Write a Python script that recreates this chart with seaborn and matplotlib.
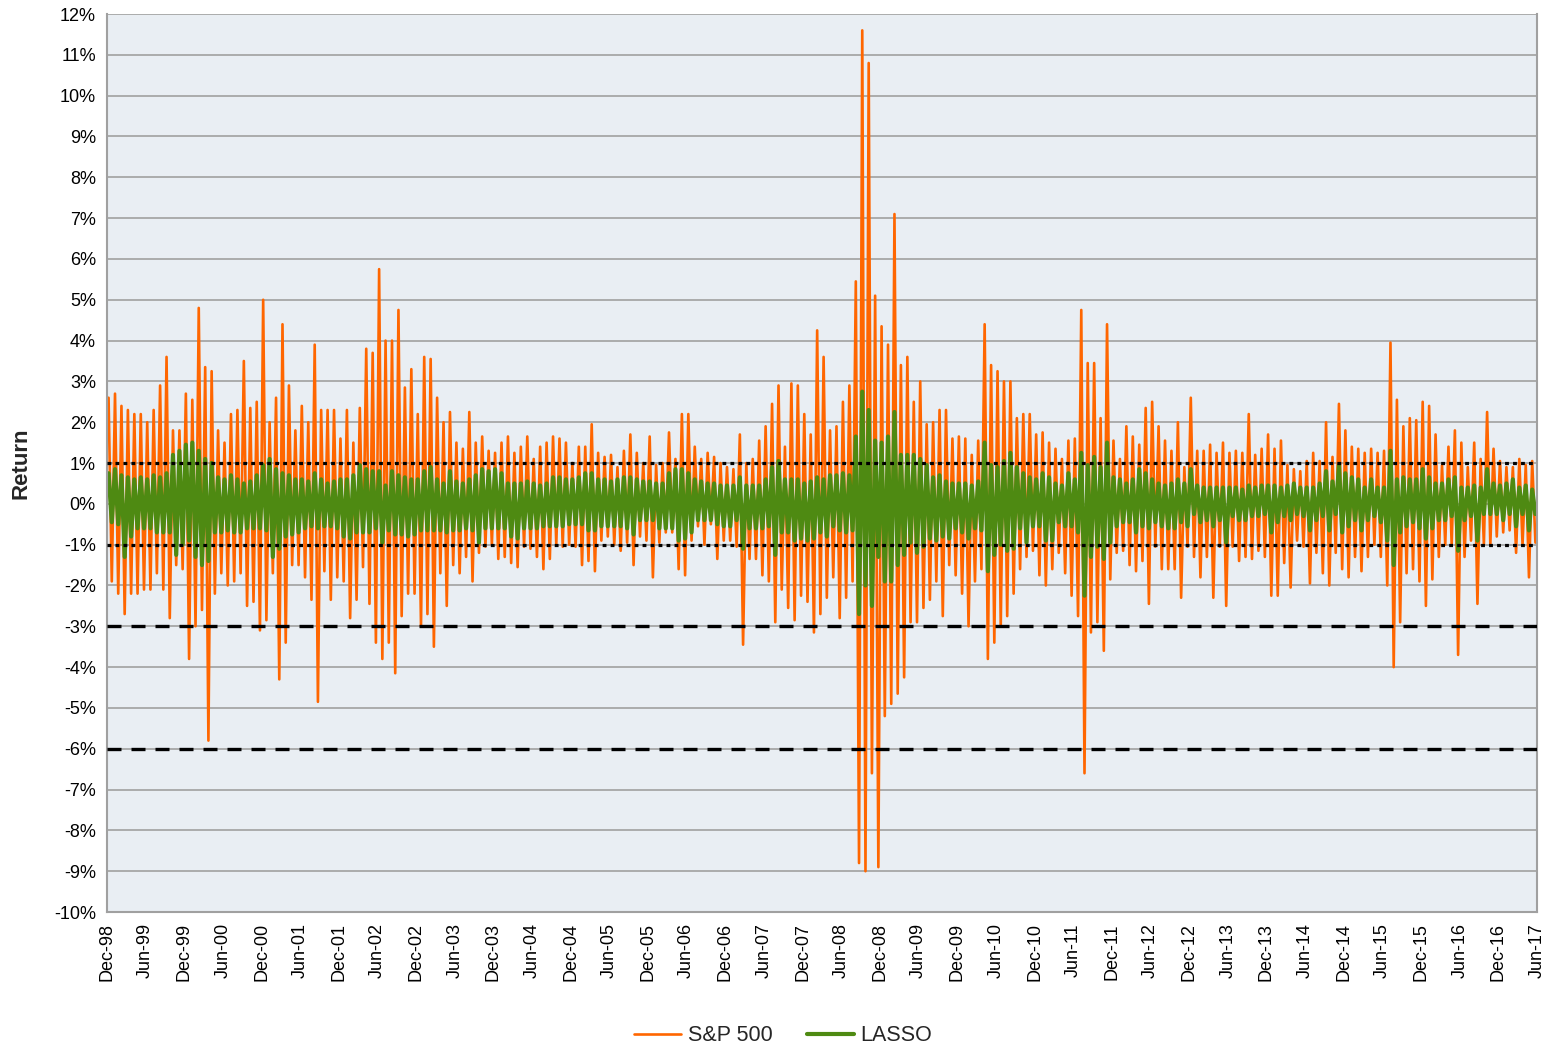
import numpy as np
import pandas as pd
import matplotlib
matplotlib.use("Agg")
import matplotlib.pyplot as plt
import seaborn as sns
from matplotlib.ticker import FuncFormatter

# Monthly envelope of daily returns (%), Dec-98 .. May-17
# one row = Dec..Nov of the following year
sp_hi = [
    2.6, 2.7, 2.4, 2.3, 2.2, 2.2, 2.0, 2.3, 2.9, 3.6, 1.8, 1.8,
    2.7, 2.55, 4.8, 3.35, 3.25, 1.8, 1.5, 2.2, 2.3, 3.5, 2.35, 2.5,
    5.0, 2.0, 2.6, 4.4, 2.9, 1.8, 2.4, 2.0, 3.9, 2.3, 2.3, 2.3,
    1.6, 2.3, 1.5, 2.35, 3.8, 3.7, 5.75, 4.0, 4.0, 4.75, 2.85, 3.3,
    2.2, 3.6, 3.55, 2.6, 2.0, 2.25, 1.5, 1.35, 2.25, 1.5, 1.65, 1.3,
    1.25, 1.5, 1.65, 1.25, 1.4, 1.65, 1.1, 1.4, 1.5, 1.65, 1.6, 1.5,
    1.0, 1.4, 1.4, 1.95, 1.25, 1.15, 1.2, 0.9, 1.3, 1.7, 1.25, 1.0,
    1.65, 0.95, 1.0, 1.75, 1.1, 2.2, 2.2, 1.4, 1.1, 1.25, 1.15, 1.0,
    0.9, 0.85, 1.7, 1.0, 1.1, 1.55, 1.9, 2.45, 2.9, 1.4, 2.95, 2.9,
    2.2, 1.7, 4.25, 3.6, 1.8, 1.9, 2.5, 2.9, 5.45, 11.6, 10.8, 5.1,
    4.35, 3.9, 7.1, 3.4, 3.6, 2.5, 3.0, 1.95, 2.0, 2.3, 2.3, 1.6,
    1.65, 1.6, 1.2, 1.55, 4.4, 3.4, 3.25, 3.0, 3.0, 2.1, 2.2, 2.2,
    1.7, 1.75, 1.5, 1.35, 1.1, 1.55, 1.6, 4.75, 3.45, 3.45, 2.1, 4.4,
    1.55, 1.1, 1.9, 1.65, 1.45, 2.35, 2.5, 1.9, 1.55, 1.3, 2.0, 0.9,
    2.6, 1.3, 1.3, 1.45, 1.25, 1.5, 1.25, 1.3, 1.25, 2.2, 1.2, 1.35,
    1.7, 1.35, 1.55, 0.95, 0.85, 0.8, 1.05, 1.25, 1.05, 2.0, 1.15, 2.45,
    1.8, 1.4, 1.35, 1.25, 1.35, 1.25, 1.3, 3.95, 2.55, 1.9, 2.1, 2.05,
    2.5, 2.4, 1.7, 0.95, 1.4, 1.8, 1.5, 0.9, 1.5, 1.1, 2.25, 1.35,
    1.05, 0.9, 0.9, 1.1, 0.95, 1.05,
]
sp_lo = [
    -1.9, -2.2, -2.7, -2.2, -2.2, -2.1, -2.1, -1.7, -2.1, -2.8, -1.5, -1.6,
    -3.8, -3.0, -2.6, -5.8, -2.2, -1.7, -2.0, -1.9, -1.7, -2.5, -2.4, -3.1,
    -2.85, -1.7, -4.3, -3.4, -1.5, -1.5, -1.8, -2.35, -4.85, -1.65, -2.35, -1.8,
    -1.9, -2.8, -2.35, -1.55, -2.45, -3.4, -3.8, -3.4, -4.15, -2.75, -2.2, -2.2,
    -3.0, -2.7, -3.5, -1.7, -2.5, -1.5, -1.7, -1.3, -1.9, -1.2, -1.05, -1.0,
    -1.35, -1.3, -1.45, -1.55, -1.05, -1.1, -1.3, -1.6, -1.35, -1.0, -1.05, -1.0,
    -1.05, -1.5, -1.4, -1.65, -0.9, -0.8, -1.0, -1.15, -0.95, -1.5, -0.8, -0.9,
    -1.8, -0.95, -0.7, -0.7, -1.6, -1.75, -0.9, -0.55, -1.0, -0.5, -1.35, -0.9,
    -0.9, -1.05, -3.45, -1.35, -1.35, -1.75, -1.9, -2.9, -2.1, -2.55, -2.85, -2.25,
    -2.4, -3.15, -2.7, -2.3, -1.8, -2.8, -2.3, -1.9, -8.8, -9.0, -6.6, -8.9,
    -5.2, -4.9, -4.65, -4.25, -2.9, -2.9, -2.55, -2.35, -1.9, -2.75, -1.5, -1.75,
    -2.2, -3.0, -1.9, -1.6, -3.8, -3.4, -3.0, -2.75, -2.2, -1.6, -1.3, -1.15,
    -1.75, -2.0, -1.6, -1.2, -1.7, -2.25, -2.75, -6.6, -3.15, -2.9, -3.6, -1.85,
    -1.2, -1.15, -1.5, -1.65, -1.4, -2.45, -1.05, -1.6, -1.6, -1.6, -2.3, -1.05,
    -1.3, -1.8, -1.3, -2.3, -1.05, -2.5, -1.05, -1.4, -1.3, -1.35, -1.15, -1.3,
    -2.25, -2.25, -1.45, -2.05, -0.9, -1.05, -1.95, -1.2, -1.7, -2.0, -1.2, -1.6,
    -1.8, -1.3, -1.65, -1.3, -1.0, -1.3, -2.0, -4.0, -2.9, -1.7, -1.6, -1.9,
    -2.5, -1.85, -1.3, -1.0, -1.0, -3.7, -1.3, -0.9, -2.45, -1.0, -1.0, -0.8,
    -0.7, -0.65, -1.2, -1.0, -1.8, -0.95,
]
lasso_hi = [
    0.75, 0.85, 0.7, 0.65, 0.6, 0.65, 0.6, 0.7, 0.65, 0.75, 1.2, 1.3,
    1.45, 1.5, 1.3, 1.1, 1.0, 0.65, 0.6, 0.7, 0.6, 0.5, 0.55, 0.7,
    0.95, 1.1, 0.85, 0.75, 0.7, 0.6, 0.6, 0.55, 0.75, 0.6, 0.5, 0.55,
    0.6, 0.6, 0.7, 0.95, 0.85, 0.8, 0.8, 0.45, 0.8, 0.7, 0.65, 0.6,
    0.6, 0.8, 0.9, 0.6, 0.5, 0.8, 0.55, 0.5, 0.6, 0.7, 0.85, 0.8,
    0.85, 0.75, 0.5, 0.5, 0.5, 0.55, 0.5, 0.45, 0.5, 0.65, 0.65, 0.6,
    0.6, 0.65, 0.75, 0.75, 0.6, 0.6, 0.55, 0.6, 0.65, 0.65, 0.6, 0.55,
    0.55, 0.5, 0.5, 0.75, 0.85, 0.85, 0.75, 0.6, 0.55, 0.5, 0.5, 0.45,
    0.45, 0.45, 0.65, 0.45, 0.45, 0.45, 0.6, 0.9, 1.05, 0.6, 0.6, 0.6,
    0.5, 0.55, 0.65, 0.6, 0.7, 0.7, 0.75, 0.7, 1.65, 2.75, 2.3, 1.55,
    1.5, 1.65, 2.25, 1.2, 1.2, 1.2, 1.1, 0.95, 0.65, 0.7, 0.55, 0.5,
    0.5, 0.5, 0.45, 0.55, 1.5, 0.95, 0.9, 1.05, 1.25, 0.9, 0.75, 0.65,
    0.6, 0.75, 0.65, 0.5, 0.45, 0.75, 0.6, 1.25, 0.95, 1.15, 0.9, 1.5,
    0.65, 0.6, 0.5, 0.6, 0.85, 0.75, 0.6, 0.5, 0.45, 0.5, 0.6, 0.5,
    0.85, 0.45, 0.4, 0.4, 0.4, 0.4, 0.4, 0.4, 0.35, 0.45, 0.4, 0.45,
    0.45, 0.45, 0.4, 0.45, 0.5, 0.4, 0.4, 0.4, 0.5, 0.8, 0.55, 0.95,
    0.75, 0.65, 0.6, 0.4, 0.6, 0.4, 0.4, 1.3, 0.6, 0.65, 0.6, 0.6,
    0.85, 0.65, 0.5, 0.5, 0.6, 0.65, 0.4, 0.4, 0.45, 0.4, 0.85, 0.5,
    0.45, 0.5, 0.6, 0.4, 0.45, 0.35,
]
lasso_lo = [
    -0.45, -0.5, -1.3, -0.8, -0.6, -0.6, -0.6, -0.7, -0.7, -0.7, -1.25, -1.0,
    -0.9, -1.3, -1.5, -1.4, -0.7, -0.7, -0.65, -0.7, -0.7, -0.6, -0.6, -0.6,
    -0.65, -1.3, -1.1, -0.8, -0.75, -0.7, -0.6, -0.55, -0.6, -0.55, -0.55, -0.6,
    -0.8, -0.85, -0.7, -0.7, -0.7, -0.6, -0.95, -0.65, -0.75, -0.75, -0.8, -0.75,
    -0.65, -0.65, -0.65, -0.65, -0.7, -0.65, -0.65, -0.6, -0.65, -0.95, -0.6, -0.6,
    -0.6, -0.6, -0.8, -0.85, -0.6, -0.6, -0.6, -0.55, -0.55, -0.55, -0.55, -0.5,
    -0.5, -0.5, -0.65, -0.65, -0.55, -0.55, -0.55, -0.55, -0.6, -0.75, -0.4, -0.4,
    -0.4, -0.6, -0.6, -0.6, -0.9, -0.85, -0.7, -0.4, -0.4, -0.4, -0.5, -0.55,
    -0.55, -0.4, -1.1, -0.6, -0.6, -0.6, -0.55, -1.25, -0.7, -0.7, -0.9, -0.85,
    -0.9, -0.85, -0.7, -0.8, -0.55, -0.65, -0.7, -0.65, -2.7, -2.0, -2.5, -1.3,
    -1.9, -1.9, -1.5, -1.25, -0.95, -1.2, -1.05, -0.85, -0.9, -0.8, -0.85, -0.6,
    -0.7, -0.85, -0.6, -0.65, -1.65, -1.25, -1.0, -1.15, -1.1, -0.6, -0.95, -0.55,
    -0.55, -0.9, -0.9, -0.45, -0.55, -0.55, -0.7, -2.25, -1.3, -1.05, -1.35, -0.95,
    -0.55, -0.45, -0.45, -0.7, -0.55, -0.6, -0.45, -0.55, -0.6, -0.6, -0.45, -0.55,
    -0.25, -0.45, -0.4, -0.55, -0.4, -0.95, -0.3, -0.4, -0.4, -0.3, -0.3, -0.25,
    -0.7, -0.45, -0.3, -0.4, -0.25, -0.3, -0.65, -0.4, -0.3, -0.65, -0.25, -0.7,
    -0.55, -0.4, -0.65, -0.4, -0.3, -0.45, -0.9, -1.5, -0.7, -0.55, -0.45, -0.6,
    -0.85, -0.6, -0.4, -0.4, -0.3, -1.15, -0.4, -0.3, -0.9, -0.25, -0.25, -0.25,
    -0.4, -0.25, -0.55, -0.25, -0.65, -0.25,
]

months = pd.date_range("1998-12-01", periods=len(sp_hi), freq="MS")
tick_dates = pd.date_range("1998-12-01", "2017-06-01", freq="6MS")
tick_labels = list(tick_dates.strftime("%b-%y"))
ref_dotted = [1, -1]
ref_dashed = [-3, -6]

# zigzag each month: high early in the month, low later
idx = np.arange(len(months))
x_zig = np.column_stack([idx + 0.25, idx + 0.75]).ravel()
sp_zig = np.column_stack([sp_hi, sp_lo]).ravel()
la_zig = np.column_stack([lasso_hi, lasso_lo]).ravel()

sns.set_style("white")
plt.rcParams["font.family"] = ["Liberation Sans", "DejaVu Sans"]

fig = plt.figure(figsize=(15.66, 10.47), dpi=100)
ax = fig.add_axes([0.0683, 0.1289, 0.9132, 0.8577])
ax.set_facecolor("#E9EEF3")

sns.lineplot(x=x_zig, y=sp_zig, ax=ax, color="#FF6600", linewidth=1.9,
             sort=False, estimator=None, label="S&P 500")
sns.lineplot(x=x_zig, y=la_zig, ax=ax, color="#4E8A12", linewidth=3.0,
             sort=False, estimator=None, label="LASSO")

for v in ref_dotted:
    ax.axhline(v, color="black", linewidth=2.3, linestyle=(0, (1.2, 1.3)), zorder=5)
for v in ref_dashed:
    ax.axhline(v, color="black", linewidth=2.4, linestyle=(0, (4.2, 3.0)), zorder=5)

ax.set_ylim(-10, 12)
ax.set_yticks(range(-10, 13))
ax.yaxis.set_major_formatter(FuncFormatter(lambda v, p: f"{int(round(v))}%"))
ax.yaxis.grid(True, color="#A6A6A6", linewidth=1.3)
ax.xaxis.grid(False)
ax.set_axisbelow(True)

ax.set_xlim(0, 6 * (len(tick_labels) - 1))
ax.set_xticks(np.arange(len(tick_labels)) * 6)
ax.set_xticklabels(tick_labels, rotation=90)

ax.tick_params(axis="both", labelsize=13, colors="black", length=5,
               color="#A0A0A0", width=1.2, pad=3)
for side in ["left", "bottom", "right"]:
    ax.spines[side].set_color("#A0A0A0")
    ax.spines[side].set_linewidth(1.5)
ax.spines["top"].set_visible(False)

ax.set_ylabel("Return", fontsize=16, fontweight="bold")
ax.yaxis.set_label_coords(-0.053, 0.5)
ax.set_xlabel("")

handles, labels = ax.get_legend_handles_labels()
ax.get_legend().remove()
fig.legend(handles, labels, loc="lower center", bbox_to_anchor=(0.5, -0.018),
           ncol=2, frameon=False, fontsize=15.5, handlelength=2.2,
           handletextpad=0.3, columnspacing=1.6)

fig.savefig("out.png", dpi=100)
